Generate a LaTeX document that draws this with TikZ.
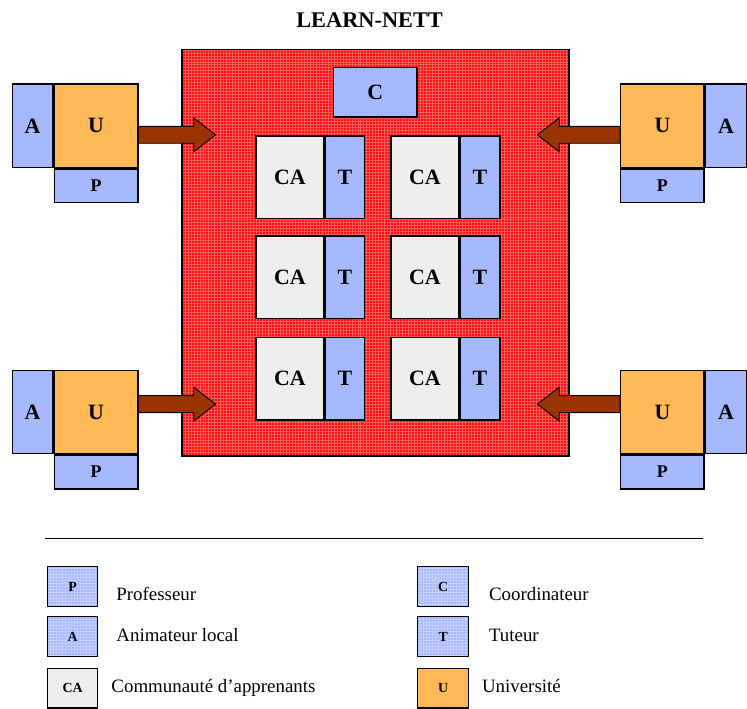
\documentclass[tikz,border=0pt]{standalone}
\usepackage{fontspec}
\setmainfont{Liberation Serif}
\usetikzlibrary{calc,positioning,patterns}
\definecolor{lnRed}{HTML}{FF1010}
\definecolor{lnGrid}{HTML}{FF5A5A}
\definecolor{lnBlue}{HTML}{A6B9FF}
\definecolor{lnBlueGrid}{HTML}{C2CFFF}
\definecolor{lnOrange}{HTML}{FFBA57}
\definecolor{lnGray}{HTML}{EEEEEE}
\definecolor{lnBrown}{HTML}{993300}

% block arrow from #1 to the tip #2 (horizontal)
\newcommand{\fatarrow}[2]{%
  \draw[fat] let \p1=(#1), \p2=(#2), \n1={(\x2>\x1 ? 1 : -1)*22pt} in
    (\x1,\y1+8.5pt) -- (\x2-\n1,\y1+8.5pt) -- (\x2-\n1,\y1+17pt) -- (\x2,\y1)
    -- (\x2-\n1,\y1-17pt) -- (\x2-\n1,\y1-8.5pt) -- (\x1,\y1-8.5pt) -- cycle;}

\begin{document}
\begin{tikzpicture}[x=1pt,y=-1pt,line join=miter]
\path[fill=white] (0,0) rectangle (747,709);
\tikzset{box/.style={draw=black,line width=1.4pt,inner sep=0pt,anchor=north west,font=\fontsize{22}{24}\selectfont\bfseries},
  ublk/.style={box,fill=lnOrange,minimum width=84pt,minimum height=84pt},
  ablk/.style={box,fill=lnBlue,minimum width=41pt,minimum height=84pt},
  pblk/.style={box,fill=lnBlue,minimum width=84pt,minimum height=34pt,font=\fontsize{18}{20}\selectfont\bfseries},
  cablk/.style={box,fill=lnGray,minimum width=68pt,minimum height=83pt},
  tblk/.style={box,fill=lnBlue,minimum width=40pt,minimum height=83pt},
  fat/.style={draw=black,line width=0.9pt,fill=lnBrown},
  key/.style={draw=black,line width=1.1pt,inner sep=0pt,anchor=north west,minimum width=51pt,minimum height=40pt,font=\fontsize{14}{16}\selectfont\bfseries},
  keyblue/.style={key,preaction={fill=lnBlue},pattern=grid,pattern color=lnBlueGrid},
  keytext/.style={anchor=base west,inner sep=0pt,font=\fontsize{19}{21}\selectfont}}
\node[font=\fontsize{22.5}{25}\selectfont\bfseries] (title) at (372,20) {LEARN-NETT};
% the network
\node[draw=black,line width=1.8pt,anchor=north west,minimum width=390pt,minimum height=409pt,inner sep=0pt,
  preaction={fill=lnRed},pattern=grid,pattern color=lnGrid] (lnet) at (182,49) {};
\node[box,fill=lnBlue,minimum width=84pt,minimum height=50pt] (coord) at (335,67) {C};
\foreach \r/\y in {1/136,2/237,3/339}{
  \foreach \c/\x in {1/257,2/393}{
    \node[cablk] (ca\r\c) at (\x,\y) {CA};
    \node[tblk,right=0pt of ca\r\c] (t\r\c) {T};
  }
}
% universities
\node[ublk] (uTL) at (54,84) {U};
\node[ablk,left=0pt of uTL] (aTL) {A};
\node[pblk,below=0pt of uTL] (pTL) {P};
\node[ublk] (uBL) at (54,372) {U};
\node[ablk,left=0pt of uBL] (aBL) {A};
\node[pblk,below=0pt of uBL] (pBL) {P};
\node[ublk] (uTR) at (624,84) {U};
\node[ablk,right=0pt of uTR] (aTR) {A};
\node[pblk,below=0pt of uTR] (pTR) {P};
\node[ublk] (uBR) at (624,372) {U};
\node[ablk,right=0pt of uBR] (aBR) {A};
\node[pblk,below=0pt of uBR] (pBR) {P};
% arrows into the network
\coordinate (outTL) at ($(uTL.east)+(0,9)$);  \coordinate (inTL) at ($(lnet.west|-outTL)+(35,0)$);
\coordinate (outBL) at ($(uBL.east)+(0,-8)$); \coordinate (inBL) at ($(lnet.west|-outBL)+(35,0)$);
\coordinate (outTR) at ($(uTR.west)+(0,9)$);  \coordinate (inTR) at ($(lnet.east|-outTR)+(-33,0)$);
\coordinate (outBR) at ($(uBR.west)+(0,-8)$); \coordinate (inBR) at ($(lnet.east|-outBR)+(-33,0)$);
\fatarrow{outTL}{inTL}
\fatarrow{outBL}{inBL}
\fatarrow{outTR}{inTR}
\fatarrow{outBR}{inBR}
% legend
\draw[line width=0.8pt] (45,542) -- (708,542);
\node[keyblue] (kP) at (47,570) {P};
\node[keyblue] (kA) at (47,620) {A};
\node[key,fill=lnGray] (kCA) at (47,672) {CA};
\node[keyblue] (kC) at (420,570) {C};
\node[keyblue] (kT) at (420,620) {T};
\node[key,fill=lnOrange] (kU) at (420,672) {U};
\node[keytext] (lP) at (117,604) {Professeur};
\node[keytext] (lA) at (117,646) {Animateur local};
\node[keytext] (lCA) at (112,697) {Communauté d’apprenants};
\node[keytext] (lC) at (492,604) {Coordinateur};
\node[keytext] (lT) at (492,646) {Tuteur};
\node[keytext] (lU) at (485,697) {Université};
\useasboundingbox (0,0) rectangle (747,709);
\end{tikzpicture}
\end{document}
